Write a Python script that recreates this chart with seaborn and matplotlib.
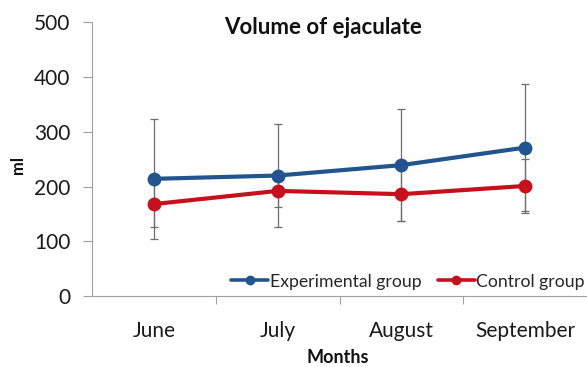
import matplotlib
matplotlib.use('Agg')
import matplotlib.pyplot as plt
from matplotlib.lines import Line2D
from matplotlib.ticker import FixedLocator
import seaborn as sns
import pandas as pd

months = ['June', 'July', 'August', 'September']
experimental = [214, 220, 239, 271]
experimental_err = [110, 94, 102, 116]
control = [168, 192, 186, 201]
control_err = [42, 30, 48, 49]

sns.set_style('white')
plt.rcParams['font.family'] = ['Lato', 'DejaVu Sans']

blue = '#22558f'
red = '#c8101c'
grey = '#a0a0a0'

df = pd.DataFrame({
    'month': months * 2,
    'ml': experimental + control,
    'group': ['Experimental group'] * 4 + ['Control group'] * 4,
})
df['x'] = df['month'].map({m: i for i, m in enumerate(months)})

fig = plt.figure(figsize=(5.87, 3.67), dpi=100)
ax = fig.add_axes([0.157, 0.193, 0.843, 0.747])

# error bars first so the markers sit on top
for vals, errs in [(experimental, experimental_err), (control, control_err)]:
    ax.errorbar(range(4), vals, yerr=errs, fmt='none', ecolor='#6e6e6e',
                elinewidth=0.9, capsize=3.2, capthick=0.9, zorder=1)

sns.lineplot(data=df, x='x', y='ml', hue='group', palette=[blue, red],
             marker='o', markersize=10, markeredgewidth=0, linewidth=3.0,
             legend=False, ax=ax, zorder=3)

ax.set_xlim(-0.5, 3.5)
ax.set_ylim(0, 500)
ax.set_yticks([0, 100, 200, 300, 400, 500])
ax.set_xticks(range(4))
ax.set_xticklabels(months)
ax.xaxis.set_minor_locator(FixedLocator([0.5, 1.5, 2.5]))
ax.tick_params(axis='x', which='major', length=0, pad=18, labelsize=15, labelcolor='#1a1a1a')
ax.tick_params(axis='x', which='minor', length=6, width=0.8, color=grey, direction='out', bottom=True)
ax.tick_params(axis='y', length=6.5, width=0.8, color=grey, direction='out', left=True,
               pad=9, labelsize=15, labelcolor='#1a1a1a')

for s in ['top', 'right']:
    ax.spines[s].set_visible(False)
for s in ['left', 'bottom']:
    ax.spines[s].set_color(grey)
    ax.spines[s].set_linewidth(0.8)

ax.set_xlabel('')
ax.set_ylabel('')
fig.text(323.5 / 587, 1 - 28 / 367, 'Volume of ejaculate', fontsize=16, fontweight='bold',
         ha='center', va='center', color='#111111')
fig.text(17.5 / 587, 1 - 165 / 367, 'ml', fontsize=12, fontweight='bold', rotation=90,
         ha='center', va='center', color='#111111')
fig.text(338 / 587, 1 / 367, 'Months', fontsize=13, fontweight='bold',
         ha='center', va='bottom', color='#111111')

handles = [
    Line2D([], [], color=blue, lw=2.6, marker='o', markersize=7, markeredgewidth=0),
    Line2D([], [], color=red, lw=2.6, marker='o', markersize=7, markeredgewidth=0),
]
ax.legend(handles, ['Experimental group', 'Control group'], ncol=2, loc='center right',
          bbox_to_anchor=(585 / 587, 1 - 281.5 / 367), bbox_transform=fig.transFigure,
          frameon=False, fontsize=12.7, handlelength=2.1, handletextpad=0.1,
          columnspacing=0.9, borderaxespad=0, borderpad=0)

fig.savefig('out.png', dpi=100)
